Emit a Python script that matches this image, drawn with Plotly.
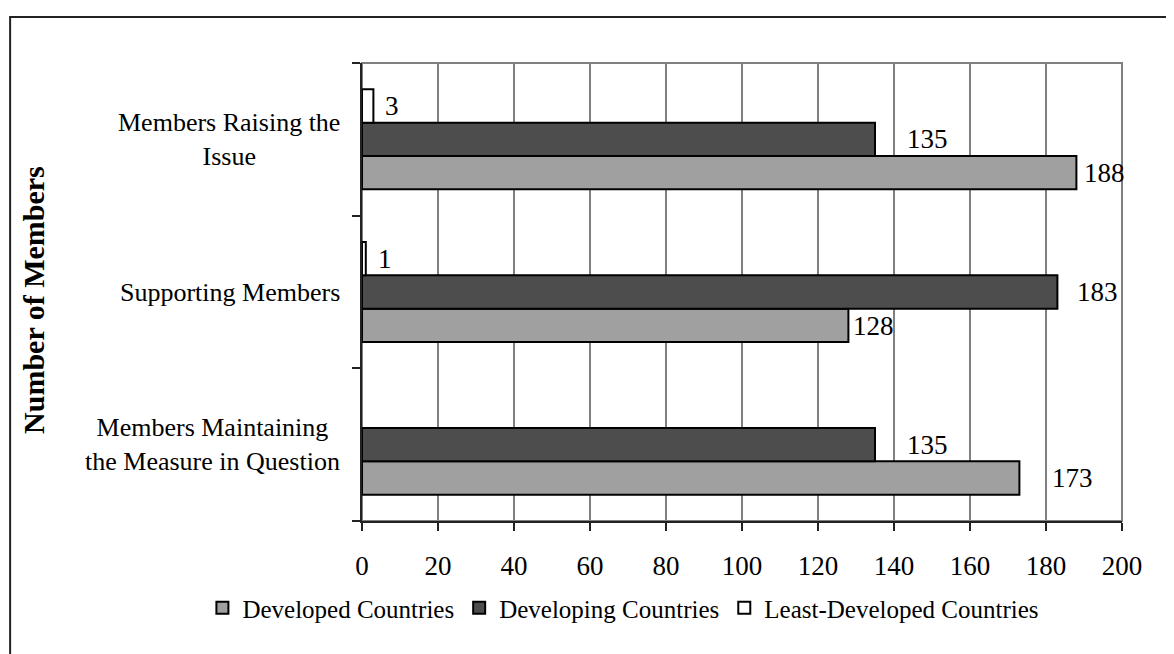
import plotly.graph_objects as go

categories = ["Members Maintaining<br>the Measure in Question", "Supporting Members", "Members Raising the<br>Issue"]
developed = [173, 128, 188]
developing = [135, 183, 135]
least_developed = [None, 1, 3]
series_names = ["Developed Countries", "Developing Countries", "Least-Developed Countries"]
x_ticks = list(range(0, 201, 20))

FONT = "Liberation Serif, Times New Roman, serif"
colors = ["#a0a0a0", "#4d4d4d", "#ffffff"]
series = [developed, developing, least_developed]

fig = go.Figure()
for name, vals, col in zip(series_names, series, colors):
    fig.add_trace(go.Bar(
        y=categories, x=vals, name=name, orientation="h",
        marker=dict(color=col, line=dict(color="#000000", width=2)),
    ))

# data labels (offsets in px per series/category, styling only)
label_xshift = [[31, 3, 6], [30, 18, 30], [10, 10, 10]]
bar_px = 33.5
yshifts = [-bar_px, 0, bar_px]
annotations = []
for si, vals in enumerate(series):
    for ci, v in enumerate(vals):
        if v is None:
            continue
        annotations.append(dict(
            x=v, y=categories[ci], xref="x", yref="y", text=str(v),
            showarrow=False, xanchor="left", yanchor="middle",
            xshift=label_xshift[si][ci], yshift=yshifts[si],
            font=dict(family=FONT, size=27, color="#000"),
        ))

# category labels (centered multi-line, like the original)
for c in categories:
    annotations.append(dict(
        x=-0.0263, y=c, xref="paper", yref="y", text=c, showarrow=False,
        xanchor="right", yanchor="middle", align="center",
        font=dict(family=FONT, size=26, color="#000"),
    ))

annotations.append(dict(
    x=-0.433, y=0.4825, xref="paper", yref="paper", text="<b>Number of Members</b>",
    textangle=-90, showarrow=False, xanchor="center", yanchor="middle",
    font=dict(family=FONT, size=30, color="#000"),
))

fig.update_layout(
    width=1174, height=654,
    margin=dict(l=354, r=60, t=55, b=141, autoexpand=False),
    paper_bgcolor="white", plot_bgcolor="white",
    barmode="group", bargap=0.345, bargroupgap=0,
    font=dict(family=FONT, size=20, color="#000"),
    annotations=annotations,
    showlegend=True,
    legend=dict(orientation="h", x=-0.21, y=-0.19, xanchor="left", yanchor="middle",
                traceorder="normal", font=dict(family=FONT, size=25, color="#000"),
                itemwidth=30),
    shapes=[
        dict(type="rect", xref="paper", yref="paper", x0=-0.463, y0=-0.4, x1=1.2, y1=1.1004,
             line=dict(color="#222", width=2), layer="below"),
        dict(type="rect", xref="x domain", yref="y domain", x0=0, y0=0, x1=1, y1=1,
             line=dict(color="#808080", width=2), layer="below"),
    ],
)
fig.update_xaxes(
    range=[0, 200], tickvals=x_ticks, ticktext=[str(t) for t in x_ticks],
    showgrid=True, gridcolor="#808080", gridwidth=2,
    showline=True, linecolor="#222", linewidth=2,
    ticks="outside", ticklen=8, tickcolor="#222", tickwidth=2,
    ticklabelstandoff=12, tickfont=dict(family=FONT, size=27, color="#000"),
    zeroline=False,
)
fig.update_yaxes(
    showline=True, linecolor="#222", linewidth=2,
    ticks="outside", ticklen=8, tickcolor="#222", tickwidth=2, tickson="boundaries",
    showticklabels=False, showgrid=False,
)
fig.write_html("out.html")
